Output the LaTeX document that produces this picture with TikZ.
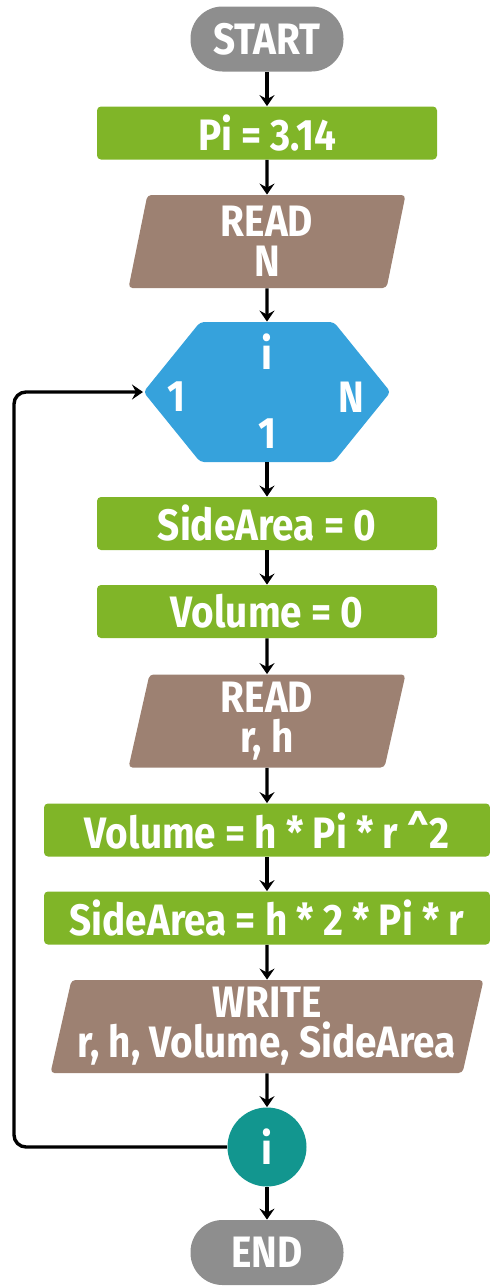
\documentclass[tikz,border=0pt]{standalone}
\usepackage{fontspec}
\newfontfamily\chartfont{Fira Sans}[FakeStretch = 0.88]
\usetikzlibrary{arrows.meta, shapes.geometric, shapes.symbols}

\definecolor{termGray}{RGB}{142,142,142}
\definecolor{procGreen}{RGB}{128,181,40}
\definecolor{ioBrown}{RGB}{157,129,114}
\definecolor{loopBlue}{RGB}{54,162,220}
\definecolor{cntTeal}{RGB}{18,150,143}

\begin{document}
\begin{tikzpicture}[x = 0.5pt, y = -0.5pt, > = {Stealth[length = 5.5pt, width = 7.5pt, inset = 2pt]},
	every node/.style = {text = white, inner sep = 0pt, align = center,
		font = \chartfont\bfseries\fontsize{22}{20}\selectfont},
	terminal/.style = {rectangle, fill = termGray, rounded corners = 16pt,
		minimum width = 76.5pt, minimum height = 32.5pt},
	process/.style = {rectangle, fill = procGreen, rounded corners = 2pt,
		minimum width = 170pt, minimum height = 26.5pt},
	wideprocess/.style = {process, minimum width = 223pt},
	io/.style = {trapezium, trapezium left angle = 75, trapezium right angle = 105,
		trapezium stretches body, fill = ioBrown, rounded corners = 2pt,
		minimum width = 138.5pt, minimum height = 46.5pt},
	forloop/.style = {signal, signal to = west and east, signal pointer angle = 102,
		fill = loopBlue, rounded corners = 2pt, minimum width = 123.5pt, minimum height = 70pt},
	counter/.style = {circle, fill = cntTeal, minimum size = 39.5pt},
	flow/.style = {->, line width = 1.7pt}]

	% Frame
	
	\useasboundingbox (0, 0) rectangle (490, 1286);
	
	% Steps
	
	\node [terminal] (start) at (267, 39) {START};
	\node [process] (piSet) at (267, 133) {Pi = 3.14};
	\node [io] (readN) at (267, 241.5) {READ\\N};
	\node [forloop] (hex) at (267, 392) {};
	\node [process] (sideZero) at (267, 523.5) {SideArea = 0};
	\node [process] (volZero) at (267, 611.5) {Volume = 0};
	\node [io] (readRH) at (267, 721) {READ\\r, h};
	\node [wideprocess] (volCalc) at (267, 830) {Volume = h * Pi * r \textasciicircum 2};
	\node [wideprocess] (areaCalc) at (267, 918) {SideArea = h * 2 * Pi * r};
	\node [io, minimum width = 216.5pt] (writeOut) at (267, 1026.5) {WRITE\\r, h, Volume, SideArea};
	\node [counter] (cnt) at (267, 1147) {i};
	\node [terminal] (stop) at (267, 1252.5) {END};
	
	% Loop labels
	
	\node (hexVar) at (267, 352) {i};
	\node (hexFrom) at (176, 397) {1};
	\node (hexTo) at (351, 397) {N};
	\node (hexStep) at (267, 434) {1};
	
	% Connectors
	
	\draw [flow] (start) -- (piSet);
	\draw [flow] (piSet) -- (readN);
	\draw [flow] (readN) -- (hex);
	\draw [flow] (hex) -- (sideZero);
	\draw [flow] (sideZero) -- (volZero);
	\draw [flow] (volZero) -- (readRH);
	\draw [flow] (readRH) -- (volCalc);
	\draw [flow] (volCalc) -- (areaCalc);
	\draw [flow] (areaCalc) -- (writeOut);
	\draw [flow] (writeOut) -- (cnt);
	\draw [flow] (cnt) -- (stop);
	
	% Back to the loop head
	
	\coordinate (loopTop) at (14, 392);
	\draw [flow, rounded corners = 6pt] (cnt.west) -| (loopTop) -- (hex.west);

\end{tikzpicture}
\end{document}
